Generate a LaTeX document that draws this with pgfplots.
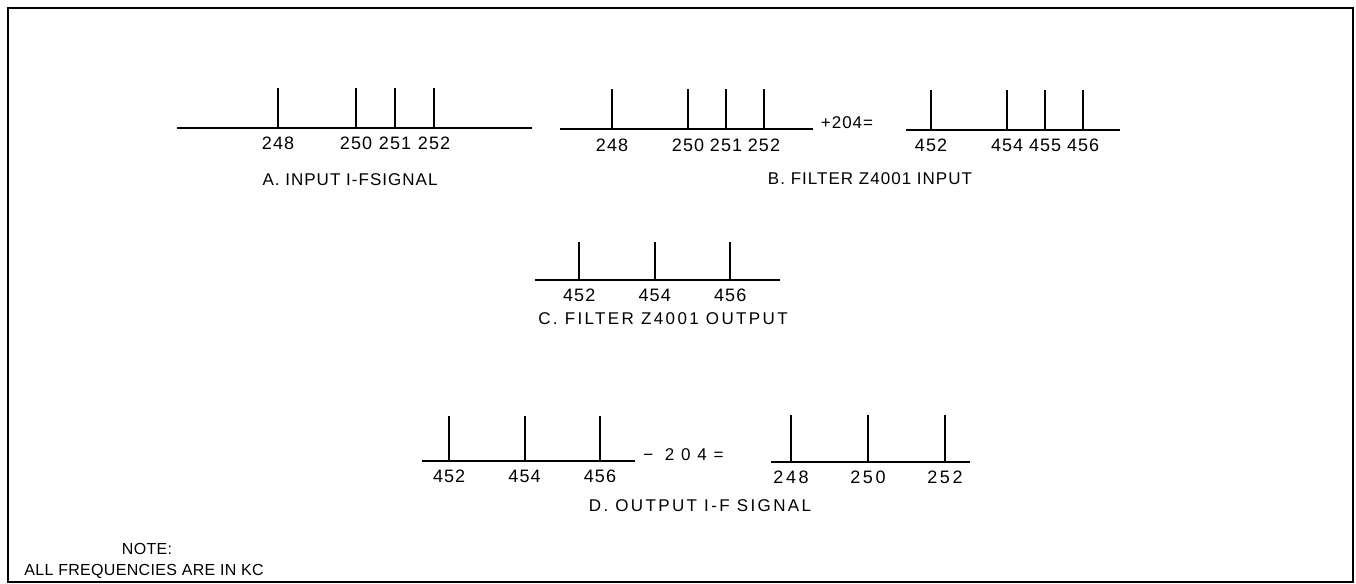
\documentclass[border=0pt]{standalone}
\usepackage{pgfplots}
\pgfplotsset{compat=1.18}
\usepackage{fontspec}
\setmainfont{Liberation Sans}[LetterSpace=6]
\newfontfamily\widefont{Liberation Sans}[LetterSpace=14]
\newfontfamily\xwidefont{Liberation Sans}[LetterSpace=40]
\newfontfamily\plainfont{Liberation Sans}[LetterSpace=2]
\begin{document}
\begin{tikzpicture}
\useasboundingbox (0,0) rectangle (678pt,292pt);
\draw[line width=1pt] (4pt,1pt) rectangle (676.5pt,288pt);
\pgfplotsset{spec/.style={scale only axis, axis x line*=bottom, axis y line=none,
  ymin=0, ymax=1, ytick=\empty, major tick length=0pt, clip=false,
  axis line style={line width=1pt},
  xticklabel style={font=\fontsize{9}{10}\selectfont, inner sep=1.5pt, yshift=-3pt},
  anchor=south west}}
% A
\begin{axis}[spec, at={(88.5pt,228pt)}, width=177.5pt, height=20pt, xmin=245.41, xmax=254.51,
  xtick={248,250,251,252}, xticklabels={248,250,251,252}]
\addplot[ycomb, black, line width=1pt] coordinates {(248,1) (250,1) (251,1) (252,1)};
\end{axis}
% B left
\begin{axis}[spec, at={(280pt,227.25pt)}, width=126.5pt, height=20pt, xmin=246.63, xmax=253.29,
  xtick={248,250,251,252}, xticklabels={248,250,251,252}]
\addplot[ycomb, black, line width=1pt] coordinates {(248,1) (250,1) (251,1) (252,1)};
\end{axis}
% B right
\begin{axis}[spec, at={(453pt,227pt)}, width=107pt, height=20pt, xmin=451.34, xmax=456.97,
  xtick={452,454,455,456}, xticklabels={452,454,455,456}]
\addplot[ycomb, black, line width=1pt] coordinates {(452,1) (454,1) (455,1) (456,1)};
\end{axis}
% C
\begin{axis}[spec, at={(267.5pt,152pt)}, width=122.5pt, height=19pt, xmin=450.83, xmax=457.32,
  xtick={452,454,456}, xticklabels={452,454,456}]
\addplot[ycomb, black, line width=1pt] coordinates {(452,1) (454,1) (456,1)};
\end{axis}
% D left
\begin{axis}[spec, at={(211pt,61.5pt)}, width=106.5pt, height=22.5pt, xmin=451.28, xmax=456.93,
  xtick={452,454,456}, xticklabels={452,454,456}]
\addplot[ycomb, black, line width=1pt] coordinates {(452,1) (454,1) (456,1)};
\end{axis}
% D right
\begin{axis}[spec, at={(385.5pt,61pt)}, width=99.5pt, height=23.5pt, xmin=247.48, xmax=252.65,
  xtick={248,250,252}, xticklabels={\widefont 248,\widefont 250,\widefont 252}]
\addplot[ycomb, black, line width=1pt] coordinates {(248,1) (250,1) (252,1)};
\end{axis}
\begin{scope}[every node/.style={font=\fontsize{8.5}{10}\selectfont, inner sep=0pt}]
\node at (423.5pt,230.5pt) {+204=};
\node[font=\xwidefont\fontsize{8.5}{10}\selectfont] at (341.75pt,64.5pt) {− 204=};
\node at (175pt,202pt) {A. INPUT I-FSIGNAL};
\node at (435pt,202.5pt) {B. FILTER Z4001 INPUT};
\node[font=\widefont\fontsize{8.5}{10}\selectfont] at (331.5pt,132.5pt) {C. FILTER Z4001 OUTPUT};
\node[font=\widefont\fontsize{8.5}{10}\selectfont] at (350pt,39pt) {D. OUTPUT I-F SIGNAL};
\node[font=\plainfont\fontsize{8}{10}\selectfont] at (73.5pt,17.5pt) {NOTE:};
\node[font=\plainfont\fontsize{8}{10}\selectfont, anchor=west] at (12pt,6.5pt) {ALL FREQUENCIES ARE IN KC};
\end{scope}
\end{tikzpicture}
\end{document}
